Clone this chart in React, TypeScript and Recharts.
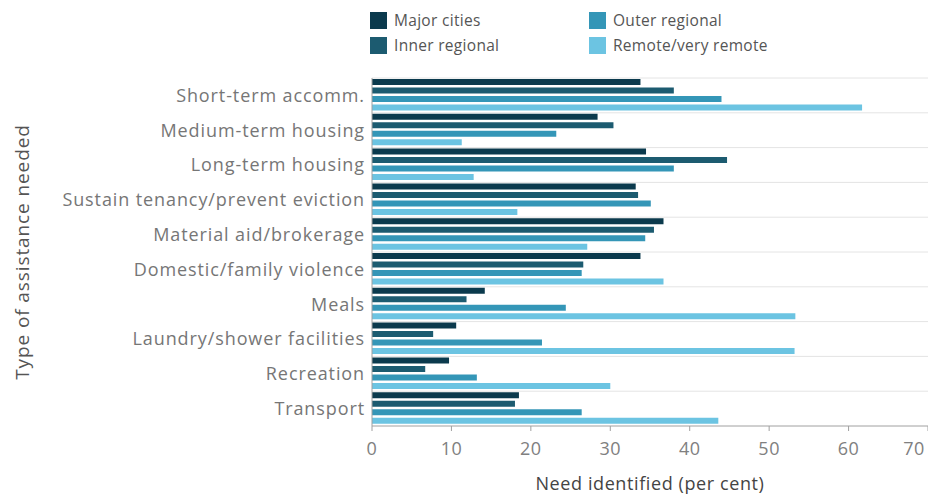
import { BarChart, Bar, XAxis, YAxis, CartesianGrid, Legend } from "recharts";

const categories = [
  "Short-term accomm.",
  "Medium-term housing",
  "Long-term housing",
  "Sustain tenancy/prevent eviction",
  "Material aid/brokerage",
  "Domestic/family violence",
  "Meals",
  "Laundry/shower facilities",
  "Recreation",
  "Transport",
];

const majorCities = [33.8, 28.4, 34.5, 33.2, 36.7, 33.8, 14.2, 10.6, 9.7, 18.5];
const innerRegional = [38.0, 30.4, 44.7, 33.5, 35.5, 26.6, 11.9, 7.7, 6.7, 18.0];
const outerRegional = [44.0, 23.2, 38.0, 35.1, 34.4, 26.4, 24.4, 21.4, 13.2, 26.4];
const remote = [61.7, 11.3, 12.8, 18.3, 27.1, 36.7, 53.3, 53.2, 30.0, 43.6];

const xTicks = [0, 10, 20, 30, 40, 50, 60, 70];

const series = [
  { key: "major", name: "Major cities", color: "#0b3a4d" },
  { key: "inner", name: "Inner regional", color: "#1c5b70" },
  { key: "outer", name: "Outer regional", color: "#3496b7" },
  { key: "remote", name: "Remote/very remote", color: "#6cc4e2" },
];

const data = categories.map((name, i) => ({
  name,
  major: majorCities[i],
  inner: innerRegional[i],
  outer: outerRegional[i],
  remote: remote[i],
}));

const FONT = "'Open Sans', 'Noto Sans', sans-serif";

function LegendBox() {
  // legend order: column by column, two rows
  return (
    <div
      style={{
        display: "grid",
        gridTemplateColumns: "219px 200px",
        gridTemplateRows: "25px 25px",
        gridAutoFlow: "column",
        fontFamily: FONT,
        fontSize: 15.5,
        letterSpacing: 0.3,
        color: "#555",
      }}
    >
      {series.map((s) => (
        <div key={s.key} style={{ display: "flex", alignItems: "center", height: 16 }}>
          <span style={{ width: 17, height: 17, background: s.color, marginRight: 7, display: "inline-block" }} />
          <span>{s.name}</span>
        </div>
      ))}
    </div>
  );
}

function XTick({ x, y, payload }: any) {
  const px = payload.value === 70 ? Math.min(x, 914) : x;
  return (
    <text x={px} y={y + 22} textAnchor="middle" fontSize={18} letterSpacing={0.5} fill="#808080" fontFamily={FONT}>
      {payload.value}
    </text>
  );
}

export default function App() {
  return (
    <div style={{ position: "absolute", left: 0, top: 0, width: 928, height: 495, background: "#fff" }}>
      <BarChart
        width={928}
        height={495}
        data={data}
        layout="vertical"
        margin={{ top: 78, right: 0, bottom: 0, left: 0 }}
        barCategoryGap={1}
        barGap={2.5}
      >
        <CartesianGrid
          vertical={false}
          stroke="#e4e4e4"
          horizontalCoordinatesGenerator={({ offset }: any) =>
            categories.map((_, i) => offset.top + (i * offset.height) / categories.length)
          }
        />
        <XAxis
          type="number"
          domain={[0, 70]}
          ticks={xTicks}
          height={69}
          stroke="#a0a0a0"
          tickSize={5}
          tick={<XTick />}
          label={{
            value: "Need identified (per cent)",
            position: "insideBottom",
            offset: 5,
            fontSize: 18,
            letterSpacing: 0.6,
            fill: "#444",
            fontFamily: FONT,
          }}
        />
        <YAxis
          type="category"
          dataKey="name"
          width={372}
          tickLine={false}
          tickSize={0}
          tickMargin={7}
          stroke="#a0a0a0"
          tick={{ fontSize: 18, letterSpacing: 0.9, fill: "#767676", fontFamily: FONT }}
          label={{
            value: "Type of assistance needed",
            angle: -90,
            position: "insideLeft",
            offset: 22,
            style: { textAnchor: "middle", letterSpacing: 0.9 },
            fontSize: 19,
            fill: "#555",
            fontFamily: FONT,
          }}
        />
        <Legend
          layout="vertical"
          align="center"
          verticalAlign="middle"
          wrapperStyle={{ position: "absolute", top: 12, left: 370, width: 440 }}
          content={() => <LegendBox />}
        />
        {series.map((s) => (
          <Bar key={s.key} dataKey={s.key} name={s.name} fill={s.color} isAnimationActive={false} />
        ))}
      </BarChart>
    </div>
  );
}
